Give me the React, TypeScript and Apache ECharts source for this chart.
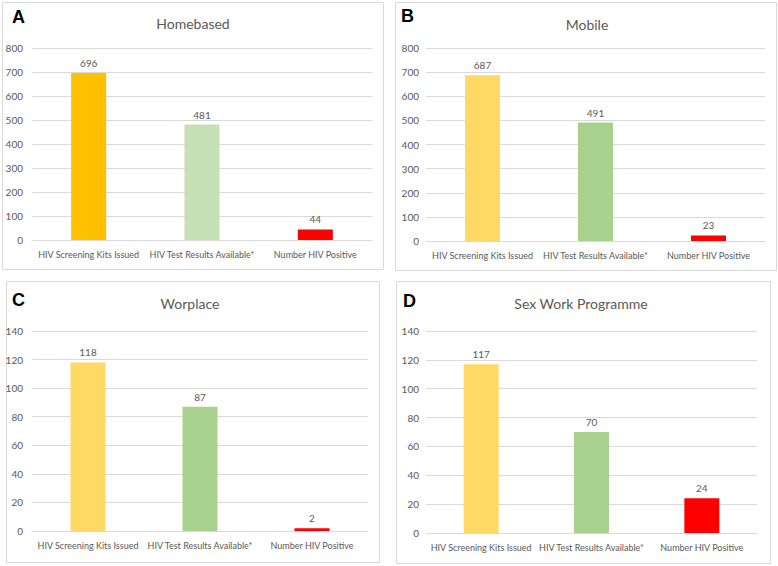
import React, { useEffect, useRef } from "react";
import * as echarts from "echarts";

const categories = ["HIV Screening Kits Issued", "HIV Test Results Available*", "Number HIV Positive"];
const homebased = [696, 481, 44];
const mobile = [687, 491, 23];
const workplace = [118, 87, 2];
const sexWork = [117, 70, 24];
const panelTitles = ["Homebased", "Mobile", "Worplace", "Sex Work Programme"];
const panelLetters = ["A", "B", "C", "D"];
const yMaxes = [800, 800, 140, 140];
const yIntervals = [100, 100, 20, 20];

const colorsA = ["#FFC000", "#C5E0B4", "#FF0000"];
const colorsOther = ["#FFD966", "#A9D18E", "#FF0000"];

const FONT = "Lato, sans-serif";

const panels = [
  { box: [2, 2, 381, 267], grid: { left: 32, top: 48, width: 340, height: 192 }, title: [193, 23], letter: [12, 17], ylabMargin: 9 },
  { box: [395, 2, 381, 268], grid: { left: 426, top: 48, width: 339, height: 193 }, title: [587, 24], letter: [401, 16], ylabMargin: 7 },
  { box: [6, 281, 373, 281], grid: { left: 32, top: 331, width: 336, height: 200 }, title: [190, 303], letter: [12, 300], ylabMargin: 9 },
  { box: [396, 281, 374, 282], grid: { left: 426, top: 331, width: 331, height: 202 }, title: [581, 303], letter: [403, 301], ylabMargin: 7 },
];

export default function App() {
  const ref = useRef<HTMLDivElement>(null);
  useEffect(() => {
    if (!ref.current) return;
    const chart = echarts.init(ref.current, null, { renderer: "svg" });
    const datasets = [homebased, mobile, workplace, sexWork];
    const graphics: any[] = [];
    panels.forEach((p, i) => {
      graphics.push({
        type: "rect",
        shape: { x: p.box[0] + 0.5, y: p.box[1] + 0.5, width: p.box[2], height: p.box[3] },
        style: { fill: "#ffffff", stroke: "#d9d9d9", lineWidth: 1 },
        z: -10,
      });
      graphics.push({
        type: "text",
        x: p.title[0],
        y: p.title[1],
        style: { text: panelTitles[i], fill: "#595959", font: `14px ${FONT}`, textAlign: "center", textVerticalAlign: "middle" },
      });
      graphics.push({
        type: "text",
        x: p.letter[0],
        y: p.letter[1],
        style: { text: panelLetters[i], fill: "#000000", font: `bold 18px 'Liberation Sans', Arial, sans-serif`, textAlign: "left", textVerticalAlign: "middle" },
      });
    });
    const option: any = {
      animation: false,
      backgroundColor: "#ffffff",
      graphic: graphics,
      grid: panels.map((p) => ({ ...p.grid, containLabel: false })),
      xAxis: panels.map((p, i) => ({
        type: "category",
        gridIndex: i,
        data: categories,
        axisLine: { show: true, lineStyle: { color: "#d9d9d9", width: 1 } },
        axisTick: { show: false },
        axisLabel: { color: "#595959", fontSize: 9, fontFamily: FONT, margin: 10, interval: 0 },
      })),
      yAxis: panels.map((p, i) => ({
        type: "value",
        gridIndex: i,
        min: 0,
        max: yMaxes[i],
        interval: yIntervals[i],
        axisLine: { show: false },
        axisTick: { show: false },
        splitLine: { lineStyle: { color: "#d9d9d9", width: 1 } },
        axisLabel: { color: "#595959", fontSize: 10, fontFamily: FONT, margin: p.ylabMargin },
      })),
      series: datasets.map((vals, i) => ({
        type: "bar",
        xAxisIndex: i,
        yAxisIndex: i,
        barWidth: 35,
        data: vals.map((v, j) => ({
          value: v,
          itemStyle: { color: (i === 0 ? colorsA : colorsOther)[j] },
        })),
        label: { show: true, position: "top", distance: 5, color: "#595959", fontSize: 10, fontFamily: FONT },
      })),
    };
    chart.setOption(option);
    return () => chart.dispose();
  }, []);
  return <div ref={ref} style={{ position: "absolute", left: 0, top: 0, width: 778, height: 566 }} />;
}
